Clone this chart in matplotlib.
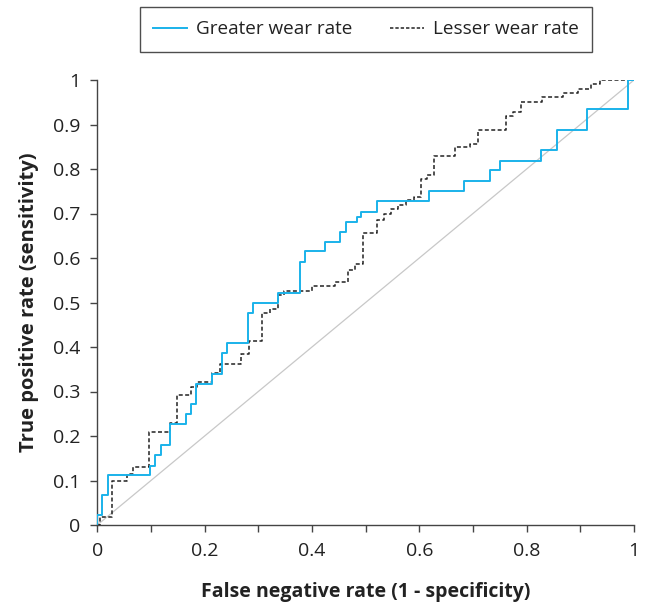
import matplotlib
matplotlib.use("Agg")
import matplotlib.pyplot as plt
from matplotlib.lines import Line2D

plt.rcParams['font.family'] = ['Open Sans', 'DejaVu Sans']

# ROC points (false positive rate, true positive rate) for each group
greater_fpr = [0.0, 0.0, 0.009, 0.020, 0.098, 0.107, 0.118, 0.135, 0.166, 0.175,
               0.184, 0.213, 0.232, 0.241, 0.281, 0.290, 0.337, 0.377, 0.387,
               0.424, 0.453, 0.463, 0.483, 0.491, 0.521, 0.618, 0.683, 0.732,
               0.751, 0.826, 0.856, 0.913, 0.989, 1.0]
greater_tpr = [0.0, 0.022, 0.067, 0.112, 0.133, 0.157, 0.179, 0.228, 0.249, 0.272,
               0.317, 0.340, 0.387, 0.410, 0.477, 0.500, 0.522, 0.592, 0.616,
               0.637, 0.659, 0.682, 0.692, 0.704, 0.728, 0.751, 0.773, 0.797,
               0.819, 0.843, 0.888, 0.934, 1.0, 1.0]

lesser_fpr = [0.0, 0.005, 0.027, 0.055, 0.066, 0.096, 0.135, 0.148, 0.175, 0.186,
              0.213, 0.228, 0.268, 0.282, 0.307, 0.322, 0.336, 0.348, 0.400,
              0.443, 0.467, 0.481, 0.495, 0.522, 0.534, 0.548, 0.561, 0.575,
              0.590, 0.603, 0.615, 0.628, 0.666, 0.695, 0.709, 0.761, 0.775,
              0.790, 0.828, 0.867, 0.895, 0.920, 0.936, 1.0]
lesser_tpr = [0.0, 0.019, 0.100, 0.114, 0.130, 0.210, 0.230, 0.292, 0.311, 0.322,
              0.341, 0.362, 0.384, 0.413, 0.476, 0.485, 0.517, 0.526, 0.536,
              0.545, 0.574, 0.587, 0.657, 0.685, 0.699, 0.709, 0.719, 0.731,
              0.738, 0.777, 0.787, 0.829, 0.849, 0.856, 0.888, 0.919, 0.929,
              0.951, 0.961, 0.970, 0.980, 0.991, 1.0, 1.0]

series_labels = ["Greater wear rate", "Lesser wear rate"]
x_ticks = [0, 0.2, 0.4, 0.6, 0.8, 1]
x_tick_labels = ["0", "0.2", "0.4", "0.6", "0.8", "1"]
y_ticks = [0, 0.1, 0.2, 0.3, 0.4, 0.5, 0.6, 0.7, 0.8, 0.9, 1]
y_tick_labels = ["0", "0.1", "0.2", "0.3", "0.4", "0.5", "0.6", "0.7", "0.8", "0.9", "1"]

W, H = 648, 605
fig = plt.figure(figsize=(W / 100, H / 100), dpi=100)
ax = fig.add_axes([97.3 / W, (H - 525) / H, (634 - 97.3) / W, (525 - 80) / H])

blue = '#1ab2ea'
ink = '#222222'
ax.plot([0, 1], [0, 1], color='#c8c8c8', lw=0.9, zorder=1)
ax.plot(lesser_fpr, lesser_tpr, drawstyle='steps-post', color=ink, lw=1.1,
        linestyle=(0, (2.6, 1.6)), zorder=2)
ax.plot(greater_fpr, greater_tpr, drawstyle='steps-post', color=blue, lw=1.4, zorder=3)

ax.set_xlim(0, 1)
ax.set_ylim(0, 1)
ax.set_xticks([i / 10 for i in range(11)], minor=True)
ax.set_xticks(x_ticks)
ax.set_xticklabels(x_tick_labels)
ax.set_yticks(y_ticks)
ax.set_yticklabels(y_tick_labels)

for s in ['top', 'right']:
    ax.spines[s].set_visible(False)
for s in ['left', 'bottom']:
    ax.spines[s].set_color('#444444')
    ax.spines[s].set_linewidth(1.0)

ax.tick_params(axis='both', which='both', direction='out', length=5, width=1.0,
               color='#444444', labelsize=14, labelcolor=ink)
ax.tick_params(axis='x', which='major', pad=7)
ax.tick_params(axis='y', which='major', pad=7)

ax.set_xlabel("False negative rate (1 - specificity)", fontsize=14, fontweight='bold',
              color=ink, labelpad=16)
ax.set_ylabel("True positive rate (sensitivity)", fontsize=14.5, fontweight='bold',
              color=ink, labelpad=10)

handles = [Line2D([], [], color=blue, lw=1.4),
           Line2D([], [], color=ink, lw=1.1, linestyle=(0, (2.2, 1.3)))]
leg = fig.legend(handles, series_labels, loc='center', ncol=2,
                 bbox_to_anchor=((140 + 592) / 2 / W, 1 - 29.5 / H),
                 fontsize=13.6, frameon=True, fancybox=False, edgecolor=ink,
                 handlelength=1.8, handletextpad=0.45, columnspacing=2.0,
                 borderpad=0.7, borderaxespad=0)
leg.get_frame().set_linewidth(1.0)
for t in leg.get_texts():
    t.set_color(ink)

fig.savefig('out.png', dpi=100)
